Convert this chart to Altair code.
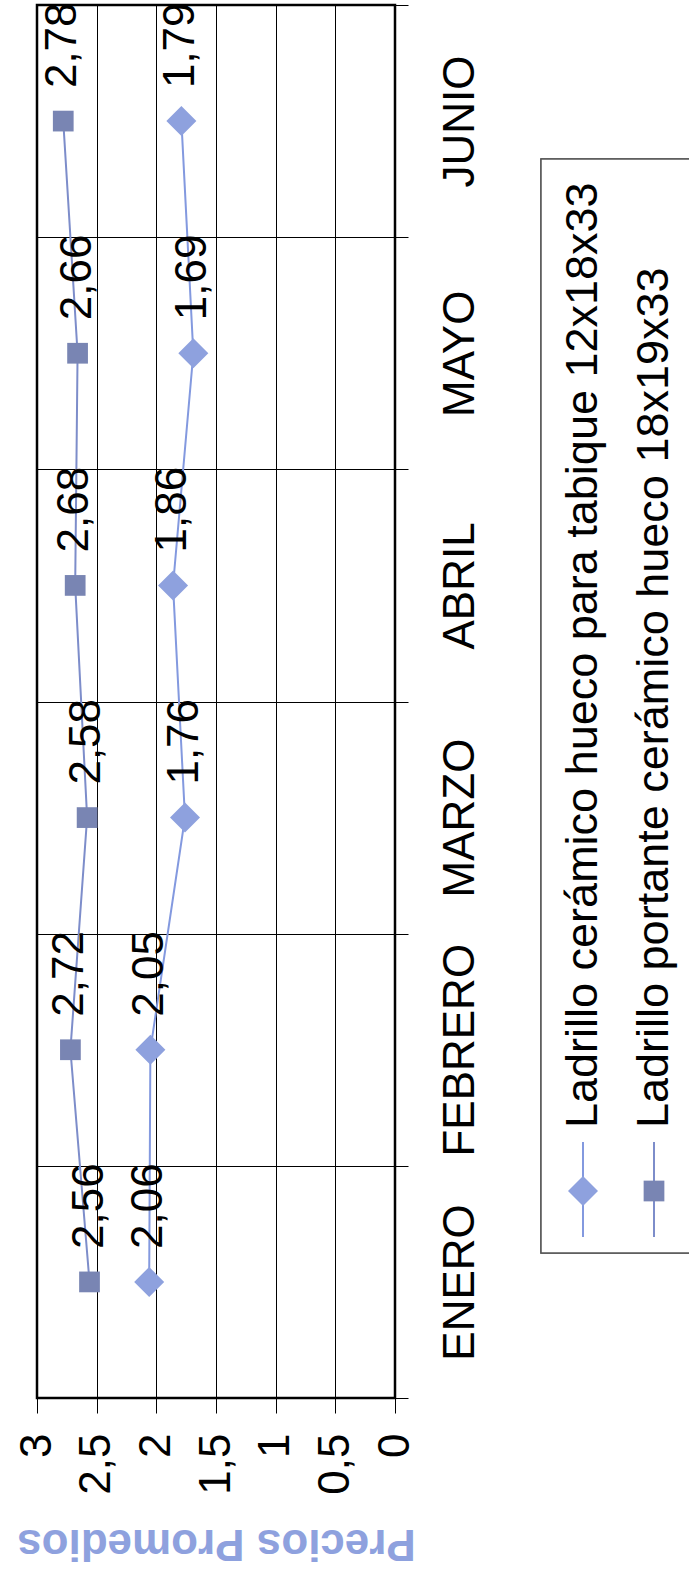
import altair as alt
import pandas as pd

# Monthly average prices for two kinds of ceramic brick
meses = ["ENERO", "FEBRERO", "MARZO", "ABRIL", "MAYO", "JUNIO"]
serie_tabique = "Ladrillo cerámico hueco para tabique  12x18x33"
serie_portante = "Ladrillo portante cerámico hueco 18x19x33"
precios_tabique = [2.06, 2.05, 1.76, 1.86, 1.69, 1.79]
precios_portante = [2.56, 2.72, 2.58, 2.68, 2.66, 2.78]
valores_eje = [0, 0.5, 1, 1.5, 2, 2.5, 3]

series = [serie_tabique, serie_portante]
formas = ["diamond", "square"]
tamanos = [900, 430]
trazos = ["#8399DF", "#7D8DCA"]
rellenos = ["#8EA1DE", "#7985B3"]

FUENTE = "Liberation Sans"
TAM = 44

df = pd.DataFrame({
    "mes": meses * 2,
    "orden": list(range(6)) * 2,
    "precio": precios_tabique + precios_portante,
    "serie": [serie_tabique] * 6 + [serie_portante] * 6,
})

eje_x = alt.X(
    "precio:Q",
    scale=alt.Scale(domain=[0, 3], reverse=True, nice=False, zero=True),
    axis=alt.Axis(
        values=valores_eje,
        labelExpr="replace(toString(datum.value), '.', ',')",
        labelAngle=270, labelAlign="right", labelBaseline="middle",
        labelPadding=20, labelFontSize=TAM, labelFont=FUENTE, labelColor="black",
        labelFlush=False, labelOverlap=False, labelLimit=0,
        tickSize=15, tickColor="black", tickWidth=1,
        grid=True, gridColor="black", gridWidth=1, gridOpacity=1,
        domain=False,
        title="Precios Promedios", titleAngle=180, titleFontSize=TAM,
        titleFont=FUENTE, titleFontWeight="bold", titleColor="#8EA1DE",
        titleBaseline="alphabetic", titleAlign="center", titleX=179, titleY=131,
    ),
)

eje_y = alt.Y(
    "mes:N",
    sort=list(reversed(meses)),
    scale=alt.Scale(type="band", paddingInner=0, paddingOuter=0),
    axis=alt.Axis(
        orient="right", title=None, tickBand="extent",
        grid=True, gridColor="black", gridWidth=1, gridOpacity=1,
        tickSize=13, tickColor="black", tickWidth=1,
        labelAngle=270, labelAlign="center", labelBaseline="top",
        labelPadding=30, labelFontSize=TAM, labelFont=FUENTE, labelColor="black",
        labelOverlap=False, labelLimit=0, domain=False,
    ),
)

base = alt.Chart(df).encode(x=eje_x, y=eje_y)

lineas = base.mark_line(strokeWidth=2).encode(
    stroke=alt.Stroke("serie:N", scale=alt.Scale(domain=series, range=trazos), legend=None),
    detail="serie:N",
    order="orden:Q",
)

puntos = base.mark_point(filled=True, opacity=1).encode(
    fill=alt.Fill("serie:N", scale=alt.Scale(domain=series, range=rellenos), legend=None),
    shape=alt.Shape("serie:N", scale=alt.Scale(domain=series, range=formas), legend=None),
    size=alt.Size("serie:N", scale=alt.Scale(domain=series, range=tamanos), legend=None),
)

etiquetas = base.transform_calculate(
    etiqueta="replace(format(datum.precio, '.2f'), '.', ',')"
).mark_text(
    angle=270, align="left", baseline="middle", dx=33,
    font=FUENTE, fontSize=TAM, color="black",
).encode(text="etiqueta:N")

# Legend drawn beside the plot, rotated like the rest of the chart
leyenda_df = pd.DataFrame({"serie": series})
marco = alt.Chart(leyenda_df).mark_rect(
    fill="white", stroke="#555555", strokeWidth=1.5
).encode(
    x=alt.value(504), x2=alt.value(700), y=alt.value(154), y2=alt.value(1248)
)

capas_leyenda = [marco]
for i, (nombre, forma, tam, trazo, relleno) in enumerate(
    zip(series, formas, tamanos, trazos, rellenos)
):
    xc = 546 + 71 * i
    datos = alt.Chart(pd.DataFrame({"serie": [nombre]}))
    capas_leyenda.append(
        datos.mark_rule(color=trazo, strokeWidth=2).encode(
            x=alt.value(xc), y=alt.value(1137), y2=alt.value(1232)
        )
    )
    capas_leyenda.append(
        datos.mark_point(filled=True, size=tam, shape=forma, fill=relleno, opacity=1).encode(
            x=alt.value(xc), y=alt.value(1186)
        )
    )
    capas_leyenda.append(
        datos.mark_text(
            angle=270, align="left", baseline="middle",
            font=FUENTE, fontSize=45, color="black",
        ).encode(x=alt.value(xc), y=alt.value(1123), text="serie:N")
    )

chart = alt.layer(lineas, puntos, etiquetas, *capas_leyenda).properties(
    width=358,
    height=1393,
    autosize=alt.AutoSizeParams(type="none"),
    padding={"left": 37, "top": 5, "right": 294, "bottom": 175},
    background="white",
).configure_view(
    stroke="black", strokeWidth=2.5
)

chart.save("out.html", embed_options={"renderer": "svg", "actions": False})
